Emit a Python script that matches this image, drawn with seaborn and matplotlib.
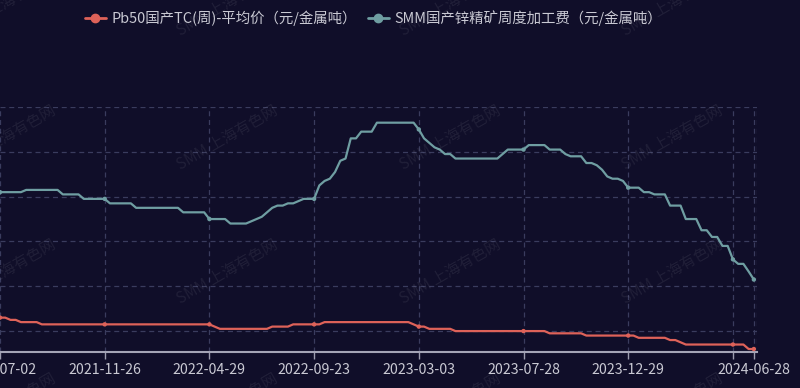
import matplotlib
matplotlib.use("Agg")
import matplotlib.pyplot as plt
from matplotlib.lines import Line2D
import seaborn as sns
import pandas as pd

# ---- data (weekly categories, index 0 = 2021-07-02, index 144 = 2024-06-28) ----
tick_index = [0, 20, 40, 60, 80, 100, 120, 140, 144]
tick_labels = ["2021-07-02", "2021-11-26", "2022-04-29", "2022-09-23", "2023-03-03",
               "2023-07-28", "2023-12-29", "2024-05-31", "2024-06-28"]

series_names = ["Pb50国产TC(周)-平均价（元/金属吨）", "SMM国产锌精矿周度加工费（元/金属吨）"]

lead_tc = [
    1300, 1300, 1250, 1250, 1200, 1200, 1200, 1200, 1150, 1150,
    1150, 1150, 1150, 1150, 1150, 1150, 1150, 1150, 1150, 1150,
    1150, 1150, 1150, 1150, 1150, 1150, 1150, 1150, 1150, 1150,
    1150, 1150, 1150, 1150, 1150, 1150, 1150, 1150, 1150, 1150,
    1150, 1100, 1050, 1050, 1050, 1050, 1050, 1050, 1050, 1050,
    1050, 1050, 1100, 1100, 1100, 1100, 1150, 1150, 1150, 1150,
    1150, 1150, 1200, 1200, 1200, 1200, 1200, 1200, 1200, 1200,
    1200, 1200, 1200, 1200, 1200, 1200, 1200, 1200, 1200, 1150,
    1100, 1100, 1050, 1050, 1050, 1050, 1050, 1000, 1000, 1000,
    1000, 1000, 1000, 1000, 1000, 1000, 1000, 1000, 1000, 1000,
    1000, 1000, 1000, 1000, 1000, 950, 950, 950, 950, 950,
    950, 950, 900, 900, 900, 900, 900, 900, 900, 900,
    900, 900, 850, 850, 850, 850, 850, 850, 800, 800,
    750, 700, 700, 700, 700, 700, 700, 700, 700, 700,
    700, 700, 700, 600, 600,
]

zinc_tc = [
    4100, 4100, 4100, 4100, 4100, 4150, 4150, 4150, 4150, 4150,
    4150, 4150, 4050, 4050, 4050, 4050, 3950, 3950, 3950, 3950,
    3950, 3850, 3850, 3850, 3850, 3850, 3750, 3750, 3750, 3750,
    3750, 3750, 3750, 3750, 3750, 3650, 3650, 3650, 3650, 3650,
    3500, 3500, 3500, 3500, 3400, 3400, 3400, 3400, 3450, 3500,
    3550, 3650, 3750, 3800, 3800, 3850, 3850, 3900, 3950, 3950,
    3950, 4250, 4350, 4400, 4550, 4800, 4850, 5300, 5300, 5450,
    5450, 5450, 5650, 5650, 5650, 5650, 5650, 5650, 5650, 5650,
    5500, 5300, 5200, 5100, 5050, 4950, 4950, 4850, 4850, 4850,
    4850, 4850, 4850, 4850, 4850, 4850, 4950, 5050, 5050, 5050,
    5050, 5150, 5150, 5150, 5150, 5050, 5050, 5050, 4950, 4900,
    4900, 4900, 4750, 4750, 4700, 4600, 4450, 4400, 4400, 4350,
    4200, 4200, 4200, 4100, 4100, 4050, 4050, 4050, 3800, 3800,
    3800, 3500, 3500, 3500, 3250, 3250, 3100, 3100, 2900, 2900,
    2600, 2500, 2500, 2330, 2150,
]

colors = ["#de6259", "#6f9ea2"]
bg = "#100e29"
grid_c = "#3a3c5e"
text_c = "#c9c9d3"

df = pd.DataFrame({
    "idx": list(range(len(lead_tc))) * 2,
    "value": lead_tc + zinc_tc,
    "series": [series_names[0]] * len(lead_tc) + [series_names[1]] * len(zinc_tc),
})
marks = df[df["idx"].isin(tick_index)]

sns.set_theme(style="dark")
plt.rcParams["font.family"] = ["Noto Sans CJK SC", "DejaVu Sans"]

fig = plt.figure(figsize=(8, 3.88), dpi=100, facecolor=bg)
ax = fig.add_axes([0.0, 1 - 351.7 / 388, 757 / 800, (351.7 - 107) / 388])
ax.set_facecolor(bg)

# grid
for v in [1000, 2000, 3000, 4000, 5000, 6000]:
    ax.axhline(v, color=grid_c, lw=0.9, ls=(0, (4, 3)), zorder=0)
for i in tick_index:
    ax.axvline(i, color=grid_c, lw=0.9, ls=(0, (4, 3)), zorder=0)
ax.axvline(144.6, color=grid_c, lw=0.9, ls=(0, (4, 3)), zorder=0)

sns.lineplot(data=df, x="idx", y="value", hue="series", hue_order=series_names,
             palette=colors, ax=ax, legend=False, linewidth=1.6, zorder=3)
sns.scatterplot(data=marks, x="idx", y="value", hue="series", hue_order=series_names,
                palette=colors, ax=ax, legend=False, s=10, edgecolor="none", zorder=4)

ax.set_xlim(0, 144.6)
ax.set_ylim(540, 6000)
ax.set_xlabel("")
ax.set_ylabel("")
ax.set_yticks([])
ax.set_xticks(tick_index)
ax.set_xticklabels(tick_labels)
ax.get_xticklabels()[7].set_visible(False)
ax.tick_params(axis="x", colors="#9c9cae", labelcolor=text_c, labelsize=10.2,
               length=5, width=1, pad=3, direction="out", bottom=True)
for s in ["top", "right", "left"]:
    ax.spines[s].set_visible(False)
ax.spines["bottom"].set_color("#a4a4b6")
ax.spines["bottom"].set_linewidth(1.5)

# legend
handles = [Line2D([], [], color=c, lw=2, marker="o", markersize=6) for c in colors]
fig.legend(handles, series_names, loc="center left", bbox_to_anchor=(85 / 800, 1 - 18 / 388),
           ncol=2, frameon=False, fontsize=10.4, labelcolor=text_c, handlelength=1.45,
           handletextpad=0.4, columnspacing=0.75, borderaxespad=0, borderpad=0)

# watermarks
for yc in [4, 138, 272, 406]:
    for xc in [5, 227, 450, 672]:
        fig.text(xc / 800, 1 - yc / 388, "SMM 上海有色网", rotation=30, ha="center", va="center",
                 fontsize=11, color="#ffffff", alpha=0.07)

fig.savefig("out.png", dpi=100, facecolor=bg)
